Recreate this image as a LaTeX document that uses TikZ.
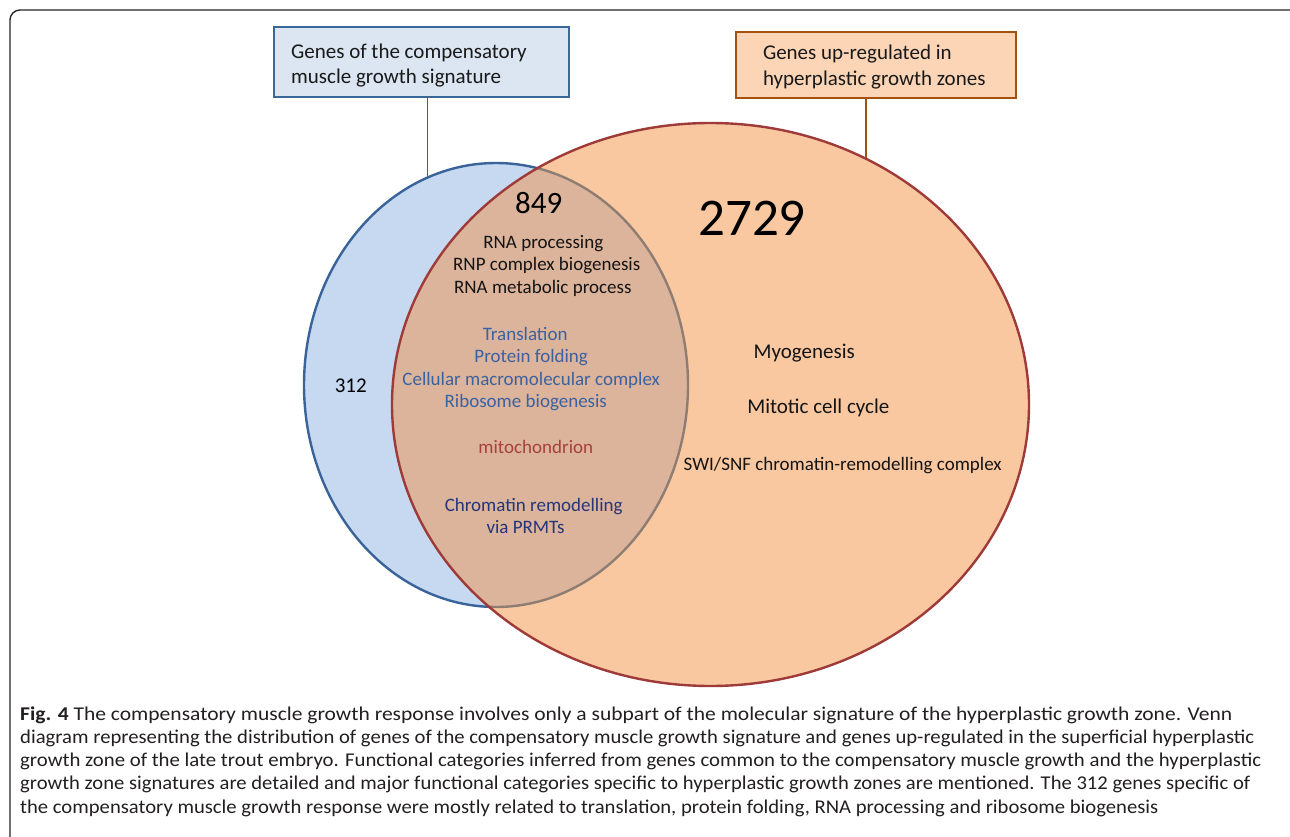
\documentclass[tikz,border=0pt]{standalone}
\usepackage{fontspec}
\usepackage{graphicx}
\setmainfont{Carlito}
\definecolor{bluefill}{HTML}{C6D9F1}
\definecolor{blueline}{HTML}{3A639A}
\definecolor{orangefill}{HTML}{F9C8A1}
\definecolor{redline}{HTML}{9E3A38}
\definecolor{overlapfill}{HTML}{DCB49B}
\definecolor{grayline}{HTML}{8E7D72}
\definecolor{lboxfill}{HTML}{DCE6F2}
\definecolor{lboxline}{HTML}{3A6898}
\definecolor{rboxfill}{HTML}{FBD5B5}
\definecolor{rboxline}{HTML}{A5520F}
\definecolor{lconncol}{HTML}{2C6A7C}
\definecolor{labblue}{HTML}{3B62A0}
\definecolor{labred}{HTML}{A5413E}
\definecolor{labnavy}{HTML}{24367A}
\definecolor{captext}{HTML}{231F20}
\newcommand{\capline}[2]{\resizebox{#1pt}{\height}{#2}}
\begin{document}
\begin{tikzpicture}[x=1pt,y=-1pt,
  frame/.style={draw=black!85, line width=1.4pt, rounded corners=10pt},
  lboxst/.style={draw=lboxline, fill=lboxfill, line width=2.2pt, inner sep=0pt},
  rboxst/.style={draw=rboxline, fill=rboxfill, line width=2.2pt, inner sep=0pt},
  lconn/.style={draw=lconncol, line width=1.8pt},
  rconn/.style={draw=rboxline, line width=2.2pt},
  boxtext/.style={anchor=base west, inner sep=0pt, text=black!90, font=\fontsize{21}{25}\selectfont},
  lab/.style={anchor=base, inner sep=0pt, text=black!92, font=\fontsize{19}{22}\selectfont},
  rlab/.style={anchor=base, inner sep=0pt, text=black!92, font=\fontsize{21}{25}\selectfont},
  caption/.style={anchor=base west, inner sep=0pt, text=captext, font=\fontsize{19.5}{23}\selectfont}
]
\useasboundingbox (0,0) rectangle (1290,837);
\fill[white] (0,0) rectangle (1290,837);
\draw[frame] (10,10) rectangle (1305,850);

% boxes
\node[lboxst, minimum width=295pt, minimum height=70pt] (lbox) at (421.5,62.3) {};
\node[rboxst, minimum width=280pt, minimum height=66pt] (rbox) at (875.7,65.3) {};
\node[boxtext] (lt1) at (290.9,58.3) {Genes of the compensatory};
\node[boxtext] (lt2) at (290.9,83.3) {muscle growth signature};
\node[boxtext] (rt1) at (762.8,60) {Genes up-regulated in};
\node[boxtext] (rt2) at (762.8,85.5) {hyperplastic growth zones};

% connectors
\coordinate (lhook) at (427.5,178);
\coordinate (rhook) at (866,160);
\draw[lconn] (lbox.south -| lhook) -- (lhook);
\draw[rconn] (rbox.south -| rhook) -- (rhook);

% ellipses
\fill[bluefill] (496,385) ellipse [x radius=192pt, y radius=222pt];
\draw[blueline, line width=2.4pt] (496,385) ellipse [x radius=192pt, y radius=222pt];
\fill[orangefill] (710.5,404.5) ellipse [x radius=318.5pt, y radius=281.5pt];
\begin{scope}
  \clip (710.5,404.5) ellipse [x radius=318.5pt, y radius=281.5pt];
  \fill[overlapfill] (496,385) ellipse [x radius=192pt, y radius=222pt];
  \draw[grayline, line width=2.4pt] (496,385) ellipse [x radius=192pt, y radius=222pt];
\end{scope}
\draw[redline, line width=2.4pt] (710.5,404.5) ellipse [x radius=318.5pt, y radius=281.5pt];

% numbers
\node[anchor=base, inner sep=0pt, text=black, font=\fontsize{31}{34}\selectfont] (n849) at (538.8,213.3) {849};
\node[anchor=base, inner sep=0pt, text=black, font=\fontsize{53}{56}\selectfont] (n2729) at (752,236) {2729};
\node[anchor=base, inner sep=0pt, text=black, font=\fontsize{21}{24}\selectfont] (n312) at (350.8,392.3) {312};

% overlap labels
\node[lab] (a1) at (543.3,248.3) {RNA processing};
\node[lab] (a2) at (546.7,270.7) {RNP complex biogenesis};
\node[lab] (a3) at (542.8,293.3) {RNA metabolic process};
\node[lab, text=labblue] (b1) at (525.2,340) {Translation};
\node[lab, text=labblue] (b2) at (531.2,362.3) {Protein folding};
\node[lab, text=labblue] (b3) at (531.2,385) {Cellular macromolecular complex};
\node[lab, text=labblue] (b4) at (525.8,407.7) {Ribosome biogenesis};
\node[lab, text=labred] (c1) at (535.8,453.3) {mitochondrion};
\node[lab, text=labnavy] (d1) at (533.7,511) {Chromatin remodelling};
\node[lab, text=labnavy] (d2) at (525.5,533.3) {via PRMTs};

% right labels
\node[rlab] (e1) at (804.2,358.3) {Myogenesis};
\node[rlab] (e2) at (818.3,413.3) {Mitotic cell cycle};
\node[lab] (e3) at (842.7,470) {SWI/SNF chromatin-remodelling complex};

% caption
\node[caption] (cap1) at (20,720) {\capline{1212}{\textbf{Fig. 4} The compensatory muscle growth response involves only a subpart of the molecular signature of the hyperplastic growth zone. Venn}};
\node[caption] (cap2) at (20,743.3) {\capline{1234}{diagram representing the distribution of genes of the compensatory muscle growth signature and genes up-regulated in the superficial hyperplastic}};
\node[caption] (cap3) at (20,766.6) {\capline{1241}{growth zone of the late trout embryo. Functional categories inferred from genes common to the compensatory muscle growth and the hyperplastic}};
\node[caption] (cap4) at (20,789.9) {\capline{1230}{growth zone signatures are detailed and major functional categories specific to hyperplastic growth zones are mentioned. The 312 genes specific of}};
\node[caption] (cap5) at (20,813.2) {\capline{1138}{the compensatory muscle growth response were mostly related to translation, protein folding, RNA processing and ribosome biogenesis}};
\end{tikzpicture}
\end{document}
